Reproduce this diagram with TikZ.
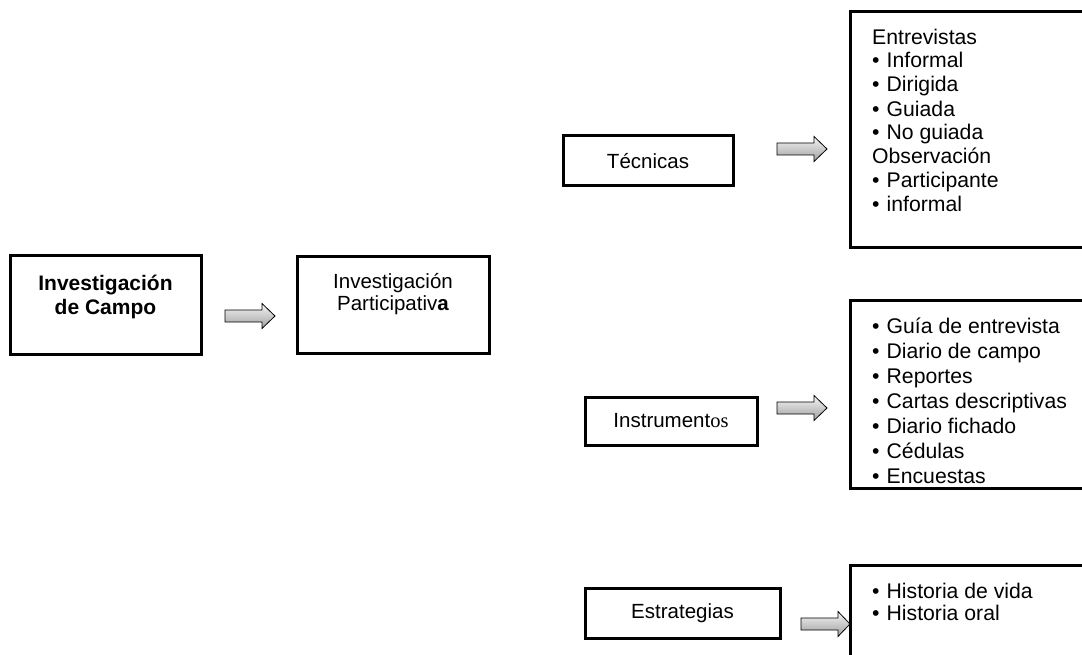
\documentclass[tikz,border=0pt]{standalone}
\usepackage{fontspec}
\setmainfont{Liberation Sans}
\newfontfamily\timesf{Liberation Serif}
\newcommand\bl{\makebox[14.5pt][l]{\textbullet}}
\newcommand\blockarr[4]{% x0, xhead, xtip, ycenter
  \path[barrow] (#1,{#4-6}) -- (#2,{#4-6}) -- (#2,{#4-12.5}) -- (#3,#4) -- (#2,{#4+12.5}) -- (#2,{#4+6}) -- (#1,{#4+6}) -- cycle;}
\begin{document}
\begin{tikzpicture}[x=1pt,y=-1pt,
  box/.style={draw, line width=3pt, inner sep=0pt},
  txt/.style={inner sep=0pt, font=\fontsize{20.5}{24}\selectfont},
  barrow/.style={draw=black, line width=0.8pt, top color=gray!8, bottom color=gray!75}]
\useasboundingbox (0,0) rectangle (1082,655);
\clip (0,0) rectangle (1082,655);
% boxes
\node[box, minimum width=191pt, minimum height=98pt] (campo) at (105.5,305) {};
\node[box, minimum width=192pt, minimum height=97pt] (part) at (393,305) {};
\node[box, minimum width=170pt, minimum height=50pt] (tec) at (648,161) {};
\node[box, minimum width=172pt, minimum height=48pt] (ins) at (671,421) {};
\node[box, minimum width=195pt, minimum height=50pt] (est) at (682.5,613) {};
\node[box, minimum width=250pt, minimum height=236pt] (r1) at (975,130) {};
\node[box, minimum width=250pt, minimum height=188pt] (r2) at (975,394) {};
\node[box, minimum width=250pt, minimum height=115pt] (r3) at (975,622.5) {};
% texts (anchor base = baseline of last line)
\node[txt, anchor=base, align=center, font=\fontsize{21}{24.5}\selectfont\bfseries] (campot) at (105.5,314.5) {Investigación\\de Campo};
\node[txt, anchor=base, align=center, font=\fontsize{20.5}{22.5}\selectfont] (partt) at (393,310.5) {Investigación\\Participativ\textbf{a}};
\node[txt] (tect) at (tec.center) {Técnicas};
\node[txt] (inst) at (ins.center) {Instrument{\timesf os}};
\node[txt] (estt) at (est.center) {Estrategias};
\node[txt, anchor=base west, align=left, font=\fontsize{21.2}{24}\selectfont] (r1t) at (872,212) {Entrevistas\\\bl Informal\\\bl Dirigida\\\bl Guiada\\\bl No guiada\\Observación\\\bl Participante\\\bl informal};
\node[txt, anchor=base west, align=left, font=\fontsize{21.2}{25}\selectfont] (r2t) at (872,483) {\bl Guía de entrevista\\\bl Diario de campo\\\bl Reportes\\\bl Cartas descriptivas\\\bl Diario fichado\\\bl Cédulas\\\bl Encuestas};
\node[txt, anchor=base west, align=left, font=\fontsize{21.2}{22}\selectfont] (r3t) at (872,620) {\bl Historia de vida\\\bl Historia oral};
% block arrows
\blockarr{225}{262}{275}{316}
\blockarr{777}{814}{827}{149}
\blockarr{777}{814}{827}{408}
\blockarr{801}{838}{850}{624}
\end{tikzpicture}
\end{document}
